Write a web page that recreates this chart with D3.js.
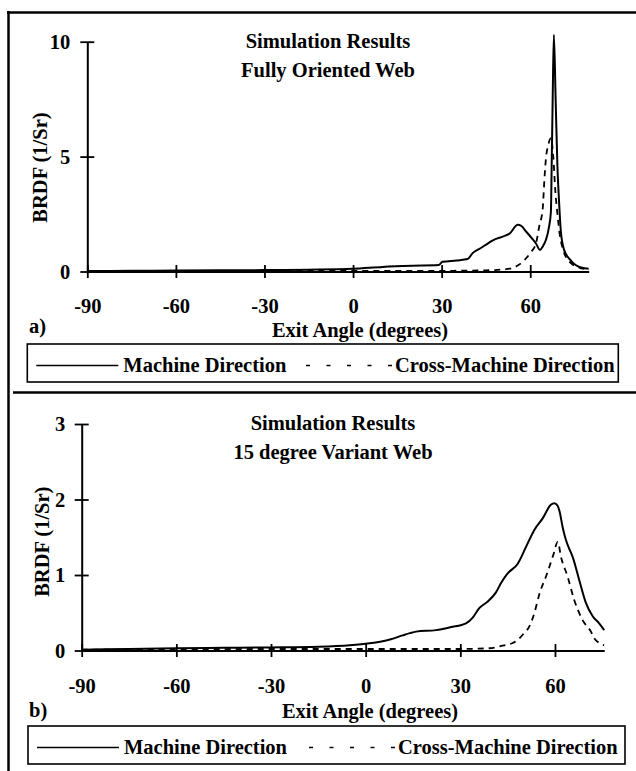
<!DOCTYPE html>
<html>
<head>
<meta charset="utf-8">
<script src="https://cdn.jsdelivr.net/npm/d3@7"></script>
<style>
  body { margin: 0; background: #fff; }
  text { font-family: "Liberation Serif", "Times New Roman", serif; font-weight: bold; font-size: 20.5px; fill: #000; }
</style>
</head>
<body>
<div id="chart"></div>
<script>
// exit angles (degrees) and BRDF (1/Sr)
const xTicks = [-90, -60, -30, 0, 30, 60];
const topYTicks = [0, 5, 10];
const botYTicks = [0, 1, 2, 3];
const legendLabels = ["Machine Direction", "Cross-Machine Direction"];

// a) fully oriented web
const topMDAngle = [-90, -75, -60, -45, -30, -15, 0, 10, 20, 29, 30.3, 35, 38.8, 40.5, 43, 46.1, 48, 50.7, 53, 55.8, 57, 58.6, 60.5, 61.9, 63.3, 64.3, 65.3, 66.3, 67, 67.25, 67.6, 68, 68.6, 69.2, 69.7, 70.4, 71.5, 73.2, 75.5, 77.5, 79.8];
const topMD = [0.02, 0.03, 0.04, 0.05, 0.06, 0.08, 0.12, 0.2, 0.25, 0.28, 0.42, 0.48, 0.54, 0.8, 1.0, 1.26, 1.4, 1.52, 1.65, 2.03, 1.98, 1.74, 1.45, 1.23, 0.94, 1.1, 1.37, 1.9, 2.6, 4.5, 7.5, 10.3, 7.5, 4.6, 3.2, 1.7, 0.93, 0.56, 0.27, 0.16, 0.12];
const topCDAngle = [-90, -60, -30, 0, 30, 45, 50, 53, 56, 58, 60.3, 62, 63.1, 64.2, 64.8, 65.3, 66.1, 67, 67.8, 68.5, 69.3, 70, 71, 72.2, 73.5, 75, 77, 79.8];
const topCD = [0.01, 0.02, 0.02, 0.03, 0.03, 0.05, 0.08, 0.12, 0.28, 0.5, 0.85, 1.25, 2.0, 2.7, 4.0, 4.9, 5.5, 5.8, 5.0, 3.5, 2.4, 1.6, 1.0, 0.6, 0.4, 0.25, 0.15, 0.1];

// b) 15 degree variant web
const botMDAngle = [-90, -75, -60, -45, -30, -15, -5, 0, 5, 8, 11.7, 14, 16, 22.3, 27, 31.8, 34, 36, 38.7, 41.3, 43, 45, 48.2, 50.8, 53.5, 56.1, 58.7, 59.8, 60.8, 61.4, 62.5, 63.5, 64.5, 65.6, 67.7, 69.8, 72, 74, 75.6];
const botMD = [0.01, 0.02, 0.03, 0.035, 0.04, 0.05, 0.07, 0.09, 0.12, 0.15, 0.2, 0.23, 0.25, 0.27, 0.31, 0.36, 0.44, 0.56, 0.65, 0.77, 0.9, 1.02, 1.15, 1.37, 1.6, 1.75, 1.93, 1.95, 1.92, 1.85, 1.62, 1.46, 1.35, 1.24, 0.93, 0.63, 0.45, 0.36, 0.27];
const botCDAngle = [-90, -60, -30, 0, 30, 39.2, 43, 46.6, 48.2, 50, 52, 53.5, 55, 57.5, 59.5, 60.9, 61.9, 64, 66.1, 68.8, 71.4, 72.5, 74, 75.6];
const botCD = [0.01, 0.015, 0.02, 0.02, 0.02, 0.03, 0.06, 0.1, 0.14, 0.22, 0.33, 0.5, 0.74, 1.02, 1.27, 1.44, 1.24, 0.98, 0.67, 0.4, 0.25, 0.16, 0.1, 0.07];

const svg = d3.select("#chart").append("svg")
    .attr("width", 636)
    .attr("height", 771);

// outer frame and the rule between the two panels
svg.append("line").attr("x1", 8.5).attr("x2", 8.5).attr("y1", 11).attr("y2", 771)
    .attr("stroke", "#000").attr("stroke-width", 2.5);
svg.append("line").attr("x1", 7).attr("x2", 636).attr("y1", 12.5).attr("y2", 12.5)
    .attr("stroke", "#000").attr("stroke-width", 2.5);
svg.append("line").attr("x1", 13).attr("x2", 636).attr("y1", 392.5).attr("y2", 392.5)
    .attr("stroke", "#000").attr("stroke-width", 2.5);

function drawPanel(p) {
  const x = d3.scaleLinear().domain(p.xDomain).range(p.xRange);
  const y = d3.scaleLinear().domain(p.yDomain).range(p.yRange);
  const g = svg.append("g");

  // x axis with ticks crossing the line
  const xa = g.append("g")
      .attr("transform", "translate(0," + p.yRange[0] + ")")
      .call(d3.axisBottom(x).tickValues(xTicks).tickSizeOuter(0).tickFormat(d => String(d)));
  xa.select(".domain").attr("stroke-width", 2);
  xa.selectAll(".tick line").attr("y1", -6.5).attr("y2", 6.5).attr("stroke-width", 1.8);
  xa.selectAll(".tick text").attr("y", p.xLabelDy).attr("dy", 0);

  const ya = g.append("g")
      .attr("transform", "translate(" + p.xRange[0] + ",0)")
      .call(d3.axisLeft(y).tickValues(p.yTicks).tickSizeOuter(0).tickFormat(d => String(d)));
  ya.select(".domain").attr("stroke-width", 2);
  ya.selectAll(".tick line").attr("x1", -7).attr("x2", 7).attr("stroke-width", 1.8);
  ya.selectAll(".tick text").attr("x", p.yLabelDx).attr("dy", "0.34em");
  xa.attr("font-size", null).attr("font-family", null);
  ya.attr("font-size", null).attr("font-family", null);

  const line = d3.line()
      .x(d => x(d[0]))
      .y(d => y(d[1]))
      .curve(d3.curveMonotoneX);

  g.append("path")
      .datum(d3.zip(p.cdAngle, p.cd))
      .attr("fill", "none").attr("stroke", "#000").attr("stroke-width", 1.8)
      .attr("stroke-dasharray", "6,5")
      .attr("d", line);
  g.append("path")
      .datum(d3.zip(p.mdAngle, p.md))
      .attr("fill", "none").attr("stroke", "#000").attr("stroke-width", 2)
      .attr("d", line);

  // titles and labels
  g.append("text").attr("x", p.titleX).attr("y", p.titleY).attr("text-anchor", "middle").text("Simulation Results");
  g.append("text").attr("x", p.titleX).attr("y", p.titleY + 28.5).attr("text-anchor", "middle").text(p.subtitle);
  g.append("text")
      .attr("transform", "translate(" + p.yTitle[0] + "," + p.yTitle[1] + ") rotate(-90)")
      .attr("text-anchor", "middle")
      .text("BRDF (1/Sr)");
  g.append("text").attr("x", p.xTitle[0]).attr("y", p.xTitle[1]).attr("text-anchor", "middle").text("Exit Angle (degrees)");
  g.append("text").attr("x", 29).attr("y", p.letterY).text(p.letter);

  // legend box
  const lg = g.append("g");
  lg.append("rect")
      .attr("x", p.legend.x).attr("y", p.legend.y)
      .attr("width", p.legend.w).attr("height", 38)
      .attr("fill", "none").attr("stroke", "#000").attr("stroke-width", 1.6);
  const ly = p.legend.y + 21.5;
  lg.append("line").attr("x1", p.legend.x + 9).attr("x2", p.legend.x + 91)
      .attr("y1", ly).attr("y2", ly).attr("stroke", "#000").attr("stroke-width", 1.5);
  lg.append("text").attr("x", p.legend.x + 96).attr("y", ly + 6).text(legendLabels[0]);
  lg.append("line").attr("x1", p.legend.dashX).attr("x2", p.legend.dashX + 86)
      .attr("y1", ly).attr("y2", ly).attr("stroke", "#000").attr("stroke-width", 1.5)
      .attr("stroke-dasharray", "4,16.5");
  lg.append("text").attr("x", p.legend.dashX + 89).attr("y", ly + 6).text(legendLabels[1]);
}

drawPanel({
  xDomain: [-90, 79.8], xRange: [87.3, 588.7],
  yDomain: [0, 10], yRange: [271.5, 41.7], yTicks: topYTicks,
  xLabelDy: 41.5, yLabelDx: -17,
  mdAngle: topMDAngle, md: topMD, cdAngle: topCDAngle, cd: topCD,
  titleX: 328, titleY: 48, subtitle: "Fully Oriented Web",
  yTitle: [47, 167.5], xTitle: [360, 337], letter: "a)", letterY: 333,
  legend: {x: 27.3, y: 344, w: 591, dashX: 306}
});

drawPanel({
  xDomain: [-90, 75.6], xRange: [81.7, 604.2],
  yDomain: [0, 3], yRange: [650.5, 424], yTicks: botYTicks,
  xLabelDy: 42.5, yLabelDx: -16.5,
  mdAngle: botMDAngle, md: botMD, cdAngle: botCDAngle, cd: botCD,
  titleX: 333, titleY: 430, subtitle: "15 degree Variant Web",
  yTitle: [49, 541.7], xTitle: [370, 718], letter: "b)", letterY: 717,
  legend: {x: 28, y: 726, w: 597, dashX: 309}
});
</script>
</body>
</html>
